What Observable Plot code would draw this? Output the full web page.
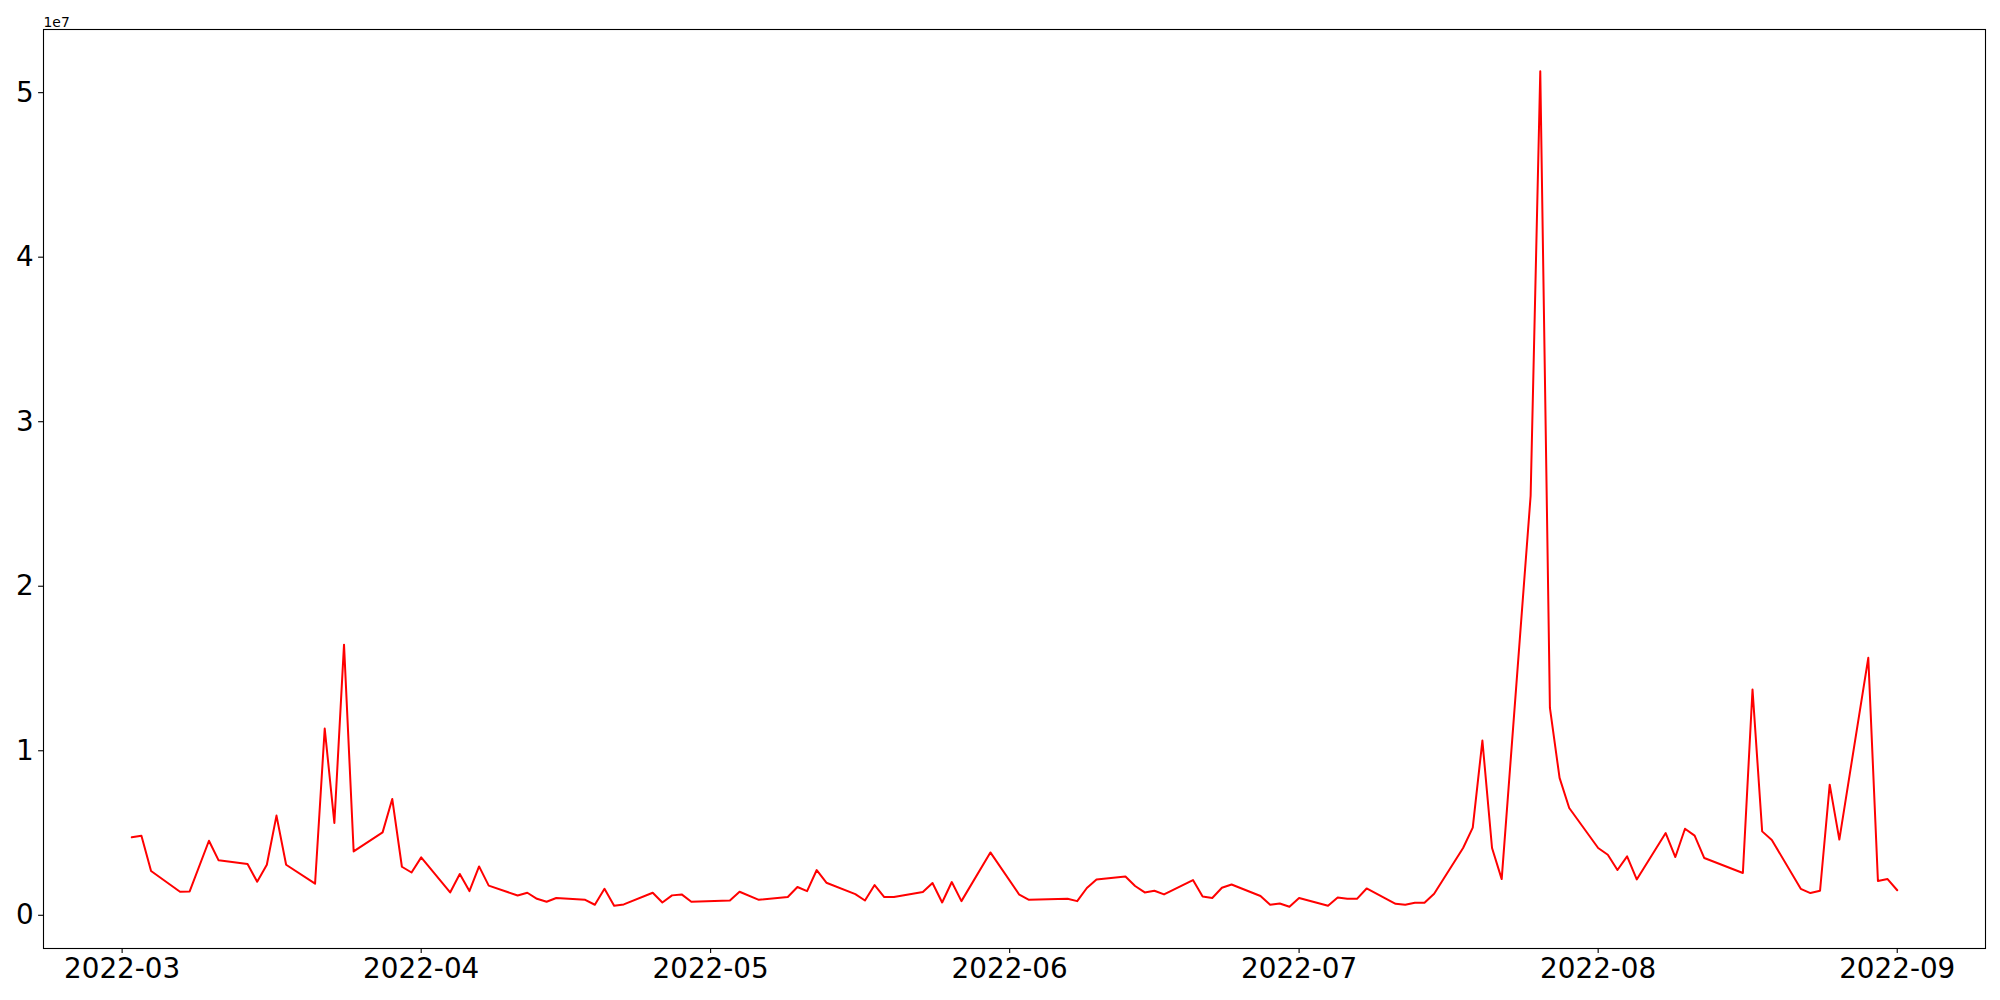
<!DOCTYPE html>
<html>
<head>
<meta charset="utf-8">
<script src="https://cdn.jsdelivr.net/npm/d3@7"></script>
<script src="https://cdn.jsdelivr.net/npm/@observablehq/plot@0.6"></script>
<style>
  html, body { margin: 0; padding: 0; background: white; }
</style>
</head>
<body>
<div id="chart"></div>
<script>
const dates = [
  "2022-03-02","2022-03-03","2022-03-04","2022-03-07","2022-03-08","2022-03-10","2022-03-11",
  "2022-03-14","2022-03-15","2022-03-16","2022-03-17","2022-03-18","2022-03-21","2022-03-22",
  "2022-03-23","2022-03-24","2022-03-25","2022-03-28","2022-03-29","2022-03-30","2022-03-31",
  "2022-04-01","2022-04-04","2022-04-05","2022-04-06","2022-04-07","2022-04-08","2022-04-11",
  "2022-04-12","2022-04-13","2022-04-14","2022-04-15","2022-04-18","2022-04-19","2022-04-20",
  "2022-04-21","2022-04-22","2022-04-25","2022-04-26","2022-04-27","2022-04-28","2022-04-29",
  "2022-05-03","2022-05-04","2022-05-06","2022-05-09","2022-05-10","2022-05-11","2022-05-12",
  "2022-05-13","2022-05-16","2022-05-17","2022-05-18","2022-05-19","2022-05-20","2022-05-23",
  "2022-05-24","2022-05-25","2022-05-26","2022-05-27","2022-05-30","2022-06-02","2022-06-03",
  "2022-06-07","2022-06-08","2022-06-09","2022-06-10","2022-06-13","2022-06-14","2022-06-15",
  "2022-06-16","2022-06-17","2022-06-20","2022-06-21","2022-06-22","2022-06-23","2022-06-24",
  "2022-06-27","2022-06-28","2022-06-29","2022-06-30","2022-07-01","2022-07-04","2022-07-05",
  "2022-07-06","2022-07-07","2022-07-08","2022-07-11","2022-07-12","2022-07-13","2022-07-14",
  "2022-07-15","2022-07-18","2022-07-19","2022-07-20","2022-07-21","2022-07-22","2022-07-25",
  "2022-07-26","2022-07-27","2022-07-28","2022-07-29","2022-08-01","2022-08-02","2022-08-03",
  "2022-08-04","2022-08-05","2022-08-08","2022-08-09","2022-08-10","2022-08-11","2022-08-12",
  "2022-08-16","2022-08-17","2022-08-18","2022-08-19","2022-08-22","2022-08-23","2022-08-24",
  "2022-08-25","2022-08-26","2022-08-29","2022-08-30","2022-08-31","2022-09-01"
];
const values = [
  4740000, 4840000, 2690000, 1430000, 1450000, 4530000, 3340000,
  3120000, 2040000, 3070000, 6060000, 3070000, 1920000, 11350000,
  5610000, 16450000, 3880000, 5040000, 7070000, 2950000, 2600000,
  3520000, 1390000, 2510000, 1470000, 2970000, 1800000, 1200000,
  1370000, 1000000, 820000, 1050000, 940000, 640000, 1610000,
  580000, 660000, 1370000, 780000, 1210000, 1270000, 820000,
  900000, 1430000, 940000, 1110000, 1720000, 1470000, 2750000,
  1980000, 1290000, 900000, 1840000, 1110000, 1110000, 1410000,
  1960000, 780000, 2020000, 860000, 3820000, 1250000, 940000,
  1000000, 860000, 1660000, 2180000, 2360000, 1780000, 1390000,
  1490000, 1270000, 2140000, 1140000, 1050000, 1670000, 1870000,
  1170000, 640000, 720000, 520000, 1050000, 580000, 1080000,
  1000000, 1000000, 1630000, 700000, 640000, 760000, 760000,
  1310000, 4090000, 5330000, 10620000, 4090000, 2200000, 25500000,
  51300000, 12600000, 8350000, 6520000, 4090000, 3680000, 2750000,
  3580000, 2180000, 5000000, 3540000, 5260000, 4840000, 3480000,
  2570000, 13720000, 5100000, 4580000, 1610000, 1350000, 1490000,
  7940000, 4600000, 15650000, 2080000, 2200000, 1520000
];
const xTickLabels = ["2022-03","2022-04","2022-05","2022-06","2022-07","2022-08","2022-09"];
const yTickLabels = [0, 1, 2, 3, 4, 5];
const yOffsetLabel = "1e7";

const data = dates.map((d, i) => ({date: new Date(d + "T00:00:00Z"), value: values[i]}));

// matplotlib-style 5% auto margins
const xe = d3.extent(data, d => +d.date);
const xpad = (xe[1] - xe[0]) * 0.05;
const ye = d3.extent(values);
const ypad = (ye[1] - ye[0]) * 0.05;

const xTicks = xTickLabels.map(s => new Date(s + "-01T00:00:00Z"));
const yTicks = yTickLabels.map(v => v * 1e7);

const chart = Plot.plot({
  width: 2000,
  height: 1000,
  marginLeft: 43,
  marginRight: 15,
  marginTop: 29,
  marginBottom: 52,
  style: {fontFamily: "DejaVu Sans", background: "white", color: "black"},
  x: {type: "utc", domain: [new Date(xe[0] - xpad), new Date(xe[1] + xpad)]},
  y: {domain: [ye[0] - ypad, ye[1] + ypad]},
  marks: [
    Plot.axisX({ticks: xTicks, tickFormat: d3.utcFormat("%Y-%m"), tickSize: 4.9, tickPadding: 4.9, fontSize: 27.8, label: null, strokeWidth: 1.1}),
    Plot.axisY({ticks: yTicks, tickFormat: d => String(d / 1e7), tickSize: 4.9, tickPadding: 4.9, fontSize: 27.8, label: null, strokeWidth: 1.1}),
    Plot.lineY(data, {x: "date", y: "value", stroke: "red", strokeWidth: 2}),
    Plot.frame({stroke: "black", strokeWidth: 1.1}),
    Plot.text([yOffsetLabel], {frameAnchor: "top-left", text: d => d, fontSize: 13.9, textAnchor: "start", lineAnchor: "bottom", dy: -3})
  ]
});
document.getElementById("chart").appendChild(chart);
</script>
</body>
</html>
